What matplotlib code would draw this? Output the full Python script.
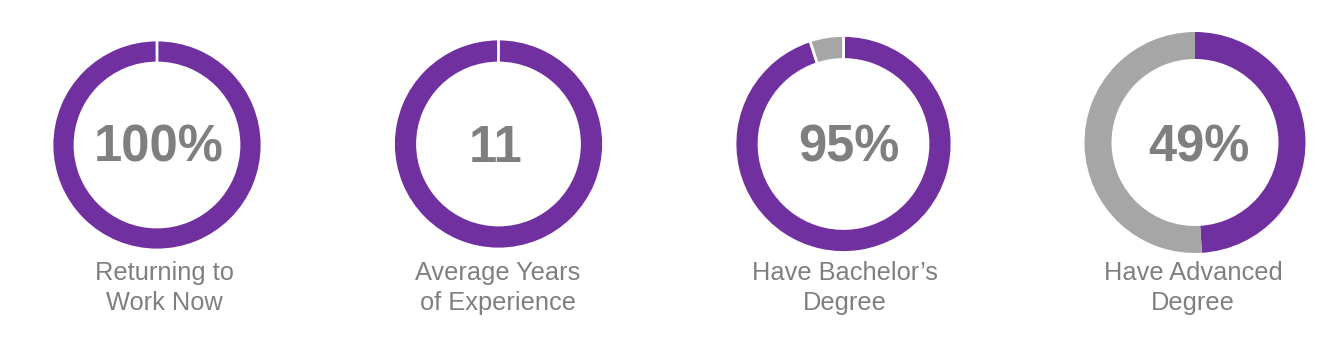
import matplotlib.pyplot as plt

# data
values = ['100%', '11', '95%', '49%']
filled = [1.00, 1.00, 0.95, 0.49]
labels = ['Returning to\nWork Now', 'Average Years\nof Experience',
          "Have Bachelor\u2019s\nDegree", 'Have Advanced\nDegree']

purple = '#7030A0'
grey = '#A6A6A6'
text_grey = '#7F7F7F'

W, H = 1321, 354
# layout in pixels (x, y from top), radius, ring width
centers = [(157, 145), (498.5, 144), (843.5, 144), (1195, 142.5)]
radii = [105, 105, 108.5, 110.5]
rings = [23, 24, 24, 27]
num_x = [159, 496, 849, 1199]
lab_x = [164, 498, 845, 1193]
edges = [2, 2, 2, 0]

fig = plt.figure(figsize=(W / 100, H / 100), dpi=100)
ax = fig.add_axes([0, 0, 1, 1])

for i in range(4):
    cx, cy = centers[i]
    ax.pie([filled[i], 1 - filled[i]], colors=[purple, grey],
           startangle=90, counterclock=False,
           center=(cx, H - cy), radius=radii[i],
           wedgeprops=dict(width=rings[i], edgecolor='white', linewidth=edges[i]))
    ax.text(num_x[i], H - 148, values[i], ha='center', va='center',
            fontsize=36.5, fontweight='bold', color=text_grey, family='Liberation Sans')
    ax.text(lab_x[i], H - 261, labels[i], ha='center', va='top',
            fontsize=18.3, color=text_grey, family='Liberation Sans', linespacing=1.3)

ax.set_xlim(0, W)
ax.set_ylim(0, H)
ax.set_aspect('auto')
ax.axis('off')

fig.savefig('out.png', dpi=100, facecolor='white')
